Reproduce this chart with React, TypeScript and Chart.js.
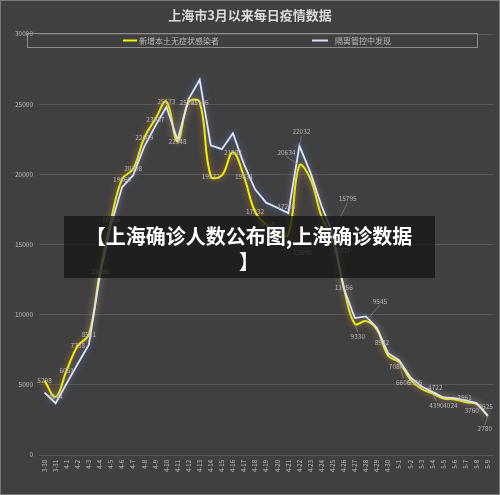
import React, { useEffect, useRef } from "react";
import { Chart, registerables } from "chart.js";

Chart.register(...registerables);

const titleText = "上海市3月以来每日疫情数据";
const seriesNames = ["新增本土无症状感染者", "隔离管控中发现"];
const bannerLines = ["【上海确诊人数公布图,上海确诊数据", "】"];

const categories = [
  "3-30", "3-31", "4-1", "4-2", "4-3", "4-4", "4-5", "4-6", "4-7", "4-8", "4-9", "4-10",
  "4-11", "4-12", "4-13", "4-14", "4-15", "4-16", "4-17", "4-18", "4-19", "4-20", "4-21",
  "4-22", "4-23", "4-24", "4-25", "4-26", "4-27", "4-28", "4-29", "4-30", "5-1", "5-2",
  "5-3", "5-4", "5-5", "5-6", "5-7", "5-8", "5-9",
];

const asymptomatic = [
  5298, 4144, 6051, 7788, 8581, 13086, 16766, 19660, 20398, 22609, 23937, 25173,
  22348, 25141, 25146, 19872, 19923, 21582, 19831, 17332, 16407, 15861, 15698,
  20634, 19657, 16983, 15319, 11956, 9330, 9545, 8932, 7084, 6606, 5395,
  4722, 4390, 4024, 3961, 3760, 3625, 2780,
];

const quarantine = [
  4450, 3690, 5100, 6500, 7860, 12800, 16400, 19090, 19930, 21980, 23450, 24810,
  22430, 25360, 26740, 22070, 21790, 22930, 20710, 18930, 17980, 17620, 17235,
  22032, 20120, 17740, 15795, 11900, 9760, 9880, 9050, 7250, 6750, 5550,
  4900, 4500, 4100, 4050, 3900, 3700, 2790,
];

const yTicks = [0, 5000, 10000, 15000, 20000, 25000, 30000];

// label placement (style only): index -> [dx, dy, leader]
const yellowNudge: Record<number, [number, number, boolean]> = {
  23: [-13, -13, true],
  22: [14, 18, true],
  26: [9, 11, false],
  28: [3, 12, true],
  29: [14, -20, true],
  30: [5, 13, false],
  31: [8, 11, false],
  32: [4, 20, true],
  33: [5, 3, false],
  34: [14, -1, false],
  35: [4, 12, true],
  36: [7, 7, false],
  37: [10, -2, false],
  38: [6, 8, false],
  39: [9, 2, false],
  40: [-3, 13, true],
};
const yellowSkip = [16, 24, 25];
const whiteLabelIdx = [22, 23, 26];
const whiteNudge: Record<number, [number, number, boolean]> = {
  22: [-2, -7, false],
  23: [2, -14, true],
  26: [15, -35, true],
};

const FONT = "'Noto Sans CJK SC', 'Noto Sans', sans-serif";

export default function App() {
  const ref = useRef<HTMLCanvasElement | null>(null);

  useEffect(() => {
    const canvas = ref.current;
    if (!canvas) return;

    const bgPlugin = {
      id: "bg",
      beforeDraw(chart: any) {
        const { ctx, width, height } = chart;
        ctx.save();
        ctx.fillStyle = "#404040";
        ctx.fillRect(0, 0, width, height);
        ctx.strokeStyle = "#7a7a7a";
        ctx.lineWidth = 1;
        ctx.strokeRect(0.5, 0.5, width - 1, height - 1);
        ctx.restore();
      },
    };

    const glowPlugin = {
      id: "glow",
      beforeDatasetDraw(chart: any, args: any) {
        const ctx = chart.ctx;
        ctx.save();
        const ds = chart.data.datasets[args.index];
        ctx.shadowColor = ds.glowColor;
        ctx.shadowBlur = 7;
      },
      afterDatasetDraw(chart: any) {
        chart.ctx.restore();
      },
    };

    const drawLabel = (ctx: any, p: any, value: number, n: [number, number, boolean] | undefined) => {
      const [dx, dy, leader] = n || [0, 0, false];
      const lx = p.x + dx;
      const ly = p.y + dy;
      if (leader) {
        ctx.strokeStyle = "#8a8a8a";
        ctx.lineWidth = 0.7;
        ctx.beginPath();
        ctx.moveTo(p.x, p.y);
        ctx.lineTo(lx, ly + (dy < 0 ? 4 : -4));
        ctx.stroke();
      }
      ctx.fillText(String(value), lx, ly);
    };

    const labelPlugin = {
      id: "labels",
      afterDatasetsDraw(chart: any) {
        const ctx = chart.ctx;
        ctx.save();
        ctx.font = `6.5px ${FONT}`;
        ctx.fillStyle = "#b8b8b8";
        ctx.textAlign = "center";
        ctx.textBaseline = "middle";
        const m0 = chart.getDatasetMeta(0);
        asymptomatic.forEach((v, i) => {
          if (yellowSkip.includes(i)) return;
          drawLabel(ctx, m0.data[i], v, yellowNudge[i]);
        });
        const m1 = chart.getDatasetMeta(1);
        whiteLabelIdx.forEach((i) => {
          drawLabel(ctx, m1.data[i], quarantine[i], whiteNudge[i]);
        });
        ctx.restore();
      },
    };

    const overlayPlugin = {
      id: "overlay",
      afterDraw(chart: any) {
        const ctx = chart.ctx;
        ctx.save();
        // title
        ctx.font = `bold 13px ${FONT}`;
        ctx.fillStyle = "#d9d9d9";
        ctx.textAlign = "center";
        ctx.textBaseline = "middle";
        ctx.fillText(titleText, 250, 15);
        // legend
        ctx.strokeStyle = "#8c8c8c";
        ctx.lineWidth = 1;
        ctx.strokeRect(27.5, 33.5, 450, 14);
        ctx.font = `8px ${FONT}`;
        ctx.textAlign = "left";
        ctx.fillStyle = "#bdbdbd";
        ctx.lineWidth = 2;
        ctx.strokeStyle = "#f2f200";
        ctx.beginPath();
        ctx.moveTo(123, 40.5);
        ctx.lineTo(137, 40.5);
        ctx.stroke();
        ctx.fillText(seriesNames[0], 139, 41);
        ctx.strokeStyle = "#dfe5f0";
        ctx.beginPath();
        ctx.moveTo(312, 40.5);
        ctx.lineTo(328, 40.5);
        ctx.stroke();
        ctx.fillText(seriesNames[1], 335, 41);
        // banner
        ctx.fillStyle = "rgba(22,22,22,0.78)";
        ctx.fillRect(64, 216, 371, 62);
        ctx.font = `bold 20px ${FONT}`;
        ctx.fillStyle = "#ffffff";
        ctx.textAlign = "center";
        ctx.fillText(bannerLines[0], 249, 236);
        ctx.fillText(bannerLines[1], 249, 261);
        ctx.restore();
      },
    };

    const chart = new Chart(canvas, {
      type: "line",
      data: {
        labels: categories,
        datasets: [
          {
            label: seriesNames[0],
            data: asymptomatic,
            borderColor: "#f2f200",
            borderWidth: 2,
            pointRadius: 0,
            tension: 0.4,
            fill: false,
            order: 1,
            glowColor: "rgba(255,150,20,0.75)",
          } as any,
          {
            label: seriesNames[1],
            data: quarantine,
            borderColor: "#dfe5f0",
            borderWidth: 1.8,
            pointRadius: 0,
            tension: 0,
            fill: false,
            order: 0,
            glowColor: "rgba(90,140,255,0.7)",
          } as any,
        ],
      },
      options: {
        responsive: false,
        animation: false,
        devicePixelRatio: 1,
        layout: { padding: { top: 34, left: 0, right: 1, bottom: 0 } },
        plugins: {
          legend: { display: false },
          title: { display: false },
          tooltip: { enabled: false },
        },
        scales: {
          x: {
            type: "category",
            offset: true,
            grid: { display: false, drawTicks: false },
            border: { display: false },
            ticks: {
              autoSkip: false,
              maxRotation: 90,
              minRotation: 90,
              padding: 5,
              color: "#c4c4c4",
              font: { size: 6, family: FONT },
            },
            afterFit(scale: any) {
              scale.height = 40;
            },
          },
          y: {
            min: 0,
            max: 30000,
            afterBuildTicks(scale: any) {
              scale.ticks = yTicks.map((v) => ({ value: v }));
            },
            grid: { color: "#575757", lineWidth: 1, drawTicks: false },
            border: { display: false },
            ticks: {
              padding: 6,
              color: "#bdbdbd",
              font: { size: 6.5, family: FONT },
              callback: (v: any) => String(v),
            },
            afterFit(scale: any) {
              scale.width = 39;
            },
          },
        },
      } as any,
      plugins: [bgPlugin, glowPlugin, labelPlugin, overlayPlugin],
    });

    return () => chart.destroy();
  }, []);

  return (
    <div style={{ position: "fixed", left: 0, top: 0, width: 500, height: 495 }}>
      <canvas ref={ref} width={500} height={495} style={{ width: 500, height: 495, display: "block" }} />
    </div>
  );
}
